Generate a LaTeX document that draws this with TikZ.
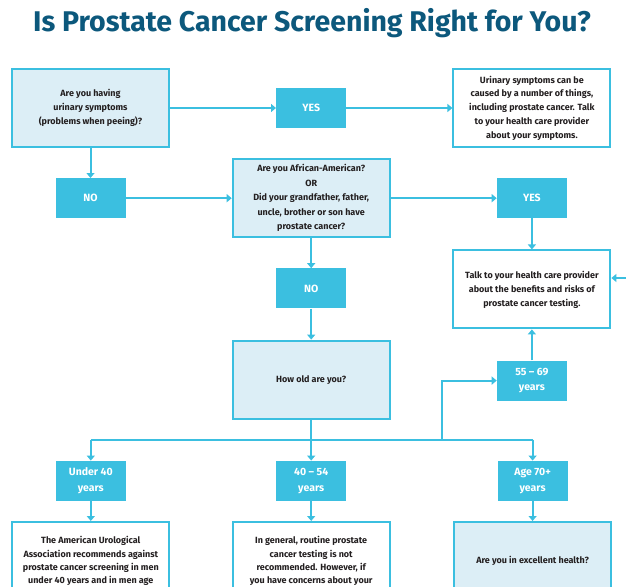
\documentclass[tikz,border=0pt]{standalone}
\usepackage{fontspec}
\setmainfont{Fira Sans}
\usetikzlibrary{positioning, arrows.meta}

\definecolor{pcCyan}{RGB}{59,191,224}
\definecolor{pcLight}{RGB}{220,238,246}
\definecolor{pcTitle}{RGB}{12,88,124}
\definecolor{pcInk}{RGB}{35,31,32}

\tikzset{
  askbox/.style={draw=pcCyan, line width=2pt, fill=pcLight, minimum width=157pt, minimum height=78pt,
    align=center, text=pcInk, font=\fontsize{9}{14}\selectfont\bfseries},
  infobox/.style={askbox, fill=white},
  tagbox/.style={fill=pcCyan, minimum width=70pt, minimum height=40pt, inner sep=0pt,
    align=center, text=white, font=\fontsize{10.5}{15.5}\selectfont\bfseries},
  link/.style={draw=pcCyan, line width=2pt}
}

\begin{document}
\begin{tikzpicture}[x=1pt, y=-1pt, >={Triangle[length=5pt,width=8pt]}]
\useasboundingbox (0,0) rectangle (626,586);
\node (title) at (312,23) [text=pcTitle, font=\fontsize{28.5}{32}\selectfont\bfseries] {Is Prostate Cancer Screening Right for You?};

\node (urinary) at (90.5,108) [askbox] {Are you having\\urinary symptoms\\(problems when peeing)?};
\node (yesUrin) [tagbox, right=106pt of urinary] {YES};
\node (seeDoc) [infobox, right=106pt of yesUrin, font=\fontsize{9}{13.7}\selectfont\bfseries] {Urinary symptoms can be\\caused by a number of things,\\including prostate cancer. Talk\\to your health care provider\\about your symptoms.};
\node (noUrin) [tagbox, below=30pt of urinary] {NO};
\node (family) [askbox, right=106pt of noUrin, font=\fontsize{9}{14.5}\selectfont\bfseries] {Are you African-American?\\OR\\Did your grandfather, father,\\uncle, brother or son have\\prostate cancer?};
\node (yesFam) [tagbox, right=106pt of family] {YES};
\node (talkRisk) [infobox, below=31pt of yesFam] {Talk to your health care provider\\about the benefits and risks of\\prostate cancer testing.};
\node (noFam) [tagbox, below=30pt of family] {NO};
\node (howOld) [askbox, below=31pt of noFam] {How old are you?};
\node (age55) [tagbox, below=31pt of talkRisk] {55 -- 69\\years};

\node (age40) [tagbox, below=41pt of howOld] {40 -- 54\\years};
\node (under40) [tagbox, left=150pt of age40] {Under 40\\years};
\node (age70) [tagbox, right=151pt of age40] {Age 70+\\years};

\node (auaNote) [infobox, below=20pt of under40, font=\fontsize{9}{13.3}\selectfont\bfseries] {The American Urological\\Association recommends against\\prostate cancer screening in men\\under 40 years and in men age};
\node (routine) [infobox, below=20pt of age40, font=\fontsize{9}{13.3}\selectfont\bfseries] {In general, routine prostate\\cancer testing is not\\recommended. However, if\\you have concerns about your};
\node (health) [askbox, below=20pt of age70] {Are you in excellent health?};

% connectors
\coordinate[below=20pt of howOld] (bus);
\coordinate[right=131pt of bus] (riser);
\coordinate (offR) at (626,278);

\draw[link, ->] (urinary) -- (yesUrin);
\draw[link, ->] (yesUrin) -- (seeDoc);
\draw[link, ->] (urinary) -- (noUrin);
\draw[link, ->] (noUrin) -- (family);
\draw[link, ->] (family) -- (yesFam);
\draw[link, ->] (yesFam) -- (talkRisk);
\draw[link, ->] (family) -- (noFam);
\draw[link, ->] (noFam) -- (howOld);
\draw[link, ->] (age55) -- (talkRisk);
\draw[link, ->] (offR) -- (offR -| talkRisk.east);

\draw[link] (howOld) -- (bus);
\draw[link] (bus -| under40) -- (bus -| age70);
\draw[link, ->] (riser) |- (age55);
\foreach \tag/\dest in {under40/auaNote, age40/routine, age70/health}{
  \draw[link, ->] (bus -| \tag) -- (\tag);
  \draw[link, ->] (\tag) -- (\dest);
}
\end{tikzpicture}
\end{document}
